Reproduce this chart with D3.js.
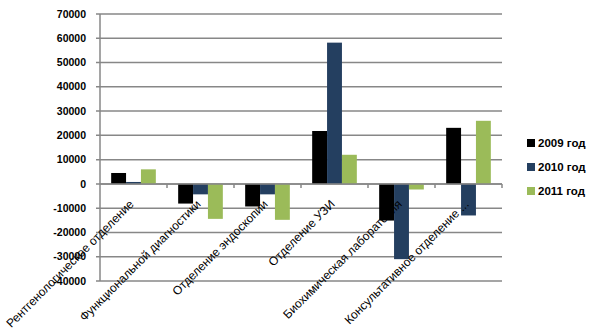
<!DOCTYPE html>
<html><head><meta charset="utf-8">
<script src="https://cdn.jsdelivr.net/npm/d3@7"></script>
<style>body{margin:0;background:#fff}svg{display:block}</style>
</head><body>
<script>
const categories = ["Рентгенологическое отделение","Функциональной диагностики","Отделение эндоскопии","Отделение УЗИ","Биохимическая лаборатория","Консультативное отделение ..."];
const seriesNames = ["2009 год","2010 год","2011 год"];
const values2009 = [4500, -8100, -9300, 21800, -15100, 23100];
const values2010 = [800, -4300, -4300, 58200, -31000, -13000];
const values2011 = [6000, -14400, -14800, 12000, -2300, 26000];
const yTicks = [-40000,-30000,-20000,-10000,0,10000,20000,30000,40000,50000,60000,70000];
const colors = ["#000000","#243F60","#9BBB59"];
const series = [values2009, values2010, values2011];

const W = 603, H = 333;
const svg = d3.select("body").append("svg").attr("width", W).attr("height", H);
const pLeft = 100, pRight = 502, pTop = 14, pBottom = 281;
const y = d3.scaleLinear().domain([-40000, 70000]).range([pBottom, pTop]);
const x0 = d3.scaleBand().domain(categories).range([pLeft, pRight]).paddingInner(0).paddingOuter(0);
const x1 = d3.scaleBand().domain(seriesNames).range([0, x0.bandwidth()]).paddingOuter(0.75).paddingInner(0);

const grid = "#878787";
svg.append("g").selectAll("line").data(yTicks).join("line")
  .attr("x1", pLeft - 4).attr("x2", pRight)
  .attr("y1", d => y(d)).attr("y2", d => y(d))
  .attr("stroke", grid).attr("stroke-width", 1.5);
svg.append("line").attr("x1", pLeft).attr("x2", pLeft).attr("y1", pTop).attr("y2", pBottom)
  .attr("stroke", grid).attr("stroke-width", 1.5);
svg.append("g").selectAll("text").data(yTicks).join("text")
  .attr("x", pLeft - 14).attr("y", d => y(d)).attr("dy", "0.35em")
  .attr("text-anchor", "end")
  .attr("font-family", "Liberation Sans, Arial, sans-serif")
  .attr("font-weight", "bold").attr("font-size", 10.5)
  .text(d => d);

const g = svg.append("g");
categories.forEach((c, i) => {
  series.forEach((s, j) => {
    const v = s[i];
    g.append("rect")
      .attr("x", x0(c) + x1(seriesNames[j]))
      .attr("width", x1.bandwidth())
      .attr("y", y(Math.max(0, v)))
      .attr("height", Math.abs(y(v) - y(0)))
      .attr("fill", colors[j]);
  });
});

svg.append("line").attr("x1", pLeft).attr("x2", pRight).attr("y1", y(0)).attr("y2", y(0))
  .attr("stroke", grid).attr("stroke-width", 1.5);
const tickXs = categories.slice(1).map(c => x0(c)).concat([pRight]);
svg.append("g").selectAll("line").data(tickXs).join("line")
  .attr("x1", d => d).attr("x2", d => d)
  .attr("y1", y(0)).attr("y2", y(0) + 4)
  .attr("stroke", grid).attr("stroke-width", 1.5);

svg.append("g").selectAll("text").data(categories).join("text")
  .attr("transform", d => `translate(${x0(d) + x0.bandwidth() / 2 + 1},${y(0) + 21}) rotate(-45)`)
  .attr("text-anchor", "end")
  .attr("font-family", "Liberation Sans, Arial, sans-serif")
  .attr("font-size", 12)
  .attr("fill", "#000")
  .text(d => d);

const lg = svg.append("g");
const legY = [143, 167, 191];
seriesNames.forEach((n, j) => {
  lg.append("rect").attr("x", 527).attr("y", legY[j] - 4).attr("width", 8).attr("height", 8).attr("fill", colors[j]);
  lg.append("text").attr("x", 538).attr("y", legY[j]).attr("dy", "0.35em")
    .attr("font-family", "Liberation Sans, Arial, sans-serif")
    .attr("font-weight", "bold").attr("font-size", 11.5)
    .text(n);
});
</script>
</body></html>
